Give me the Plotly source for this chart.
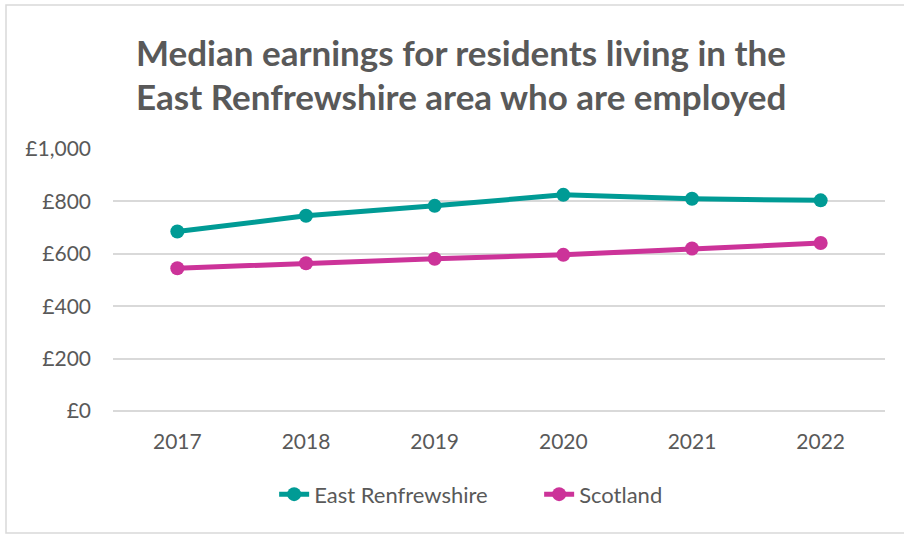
import plotly.graph_objects as go

# Weekly median earnings (£) for employed residents
years = ["2017", "2018", "2019", "2020", "2021", "2022"]
east_renfrewshire = [685, 745, 783, 825, 810, 804]
scotland = [545, 564, 581, 596, 620, 641]
y_ticks = [0, 200, 400, 600, 800, 1000]
y_tick_labels = ["£0", "£200", "£400", "£600", "£800", "£1,000"]
title_lines = [
    "Median earnings for residents living in the",
    "East Renfrewshire area who are employed",
]

TEAL = "#009B95"
MAGENTA = "#CC3399"
GREY_TEXT = "#595959"
FONT = "Lato"

PLOT_W, PLOT_H = 772, 262

fig = go.Figure()
fig.add_trace(go.Scatter(
    x=years, y=east_renfrewshire, name="East Renfrewshire",
    mode="lines+markers",
    line=dict(color=TEAL, width=5),
    marker=dict(color=TEAL, size=14),
))
fig.add_trace(go.Scatter(
    x=years, y=scotland, name="Scotland",
    mode="lines+markers",
    line=dict(color=MAGENTA, width=5),
    marker=dict(color=MAGENTA, size=14),
))

fig.update_layout(
    width=904, height=534,
    paper_bgcolor="white", plot_bgcolor="white",
    margin=dict(l=113, r=19, t=149, b=123),
    font=dict(family=FONT, size=21, color=GREY_TEXT),
    xaxis=dict(
        type="category", range=[-0.5, 5.5],
        showgrid=False, showline=False, ticks="",
        ticklabelstandoff=16,
        tickfont=dict(size=21, color=GREY_TEXT),
    ),
    yaxis=dict(
        range=[0, 1000], tickvals=y_ticks, ticktext=y_tick_labels,
        showgrid=True, gridcolor="#D9D9D9", gridwidth=1.5,
        zeroline=True, zerolinecolor="#D9D9D9", zerolinewidth=1.5,
        showline=False, ticks="", ticklabelstandoff=21,
        tickfont=dict(size=21, color=GREY_TEXT),
    ),
    legend=dict(
        orientation="h", x=0.552, xanchor="center", y=-0.238, yanchor="top",
        font=dict(size=22, color=GREY_TEXT),
        entrywidth=220,
    ),
    showlegend=True,
)

# Two-line bold title above the plot area
for i, line in enumerate(title_lines):
    fig.add_annotation(
        text=f"<b>{line}</b>", xref="paper", yref="paper",
        x=(461 - 113) / PLOT_W, y=1 + (149 - 52 - 44 * i) / PLOT_H,
        xanchor="center", yanchor="middle", showarrow=False,
        font=dict(family=FONT, size=35, color=GREY_TEXT),
    )

# Thin frame around the chart area
fig.add_shape(
    type="rect", xref="paper", yref="paper",
    x0=-107 / PLOT_W, x1=1.2, y0=-122 / PLOT_H, y1=1 + 144 / PLOT_H,
    line=dict(color="#D9D9D9", width=1.5), fillcolor="rgba(0,0,0,0)",
    layer="below",
)

fig.write_html("out.html")
